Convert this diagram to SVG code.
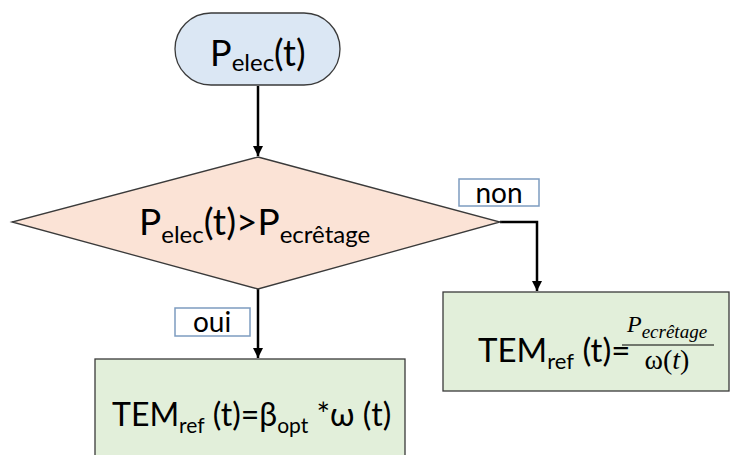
<svg xmlns="http://www.w3.org/2000/svg" width="742" height="455" viewBox="0 0 742 455">
<defs>
<marker id="arr" viewBox="0 0 10 10" refX="10" refY="5" markerWidth="4" markerHeight="4" orient="auto" markerUnits="strokeWidth">
<path d="M0,0 L10,5 L0,10 z" fill="#000"/>
</marker>
<style>
.shape{stroke:#3a3a3a;stroke-width:1.3}
.lbl{fill:#fff;stroke:#7d9cc0;stroke-width:1.5}
.t{font-family:Lato,"Open Sans",sans-serif;fill:#000}
.m{font-family:"Liberation Serif",serif;fill:#000}
.conn{fill:none;stroke:#000;stroke-width:2.5;marker-end:url(#arr)}
</style>
</defs>
<rect width="742" height="455" fill="#fff"/>
<g id="connectors">
<path class="conn" d="M258,86 V156"/>
<path class="conn" d="M500,222 H537 V291"/>
<path class="conn" d="M258,289 V358"/>
</g>
<g id="start">
<rect class="shape" x="175" y="13" width="165" height="72" rx="36" ry="36" fill="#dbe7f4"/>
<text class="t" x="210" y="66" font-size="36">P<tspan font-size="24" dy="5">elec</tspan><tspan dy="-5">(t)</tspan></text>
</g>
<g id="decision">
<polygon class="shape" points="258,157 500,222 258,289 12,222" fill="#fbe3d6"/>
<text class="t" x="139" y="235" font-size="37">P<tspan font-size="24" dy="8">elec</tspan><tspan dy="-8">(t)&gt;P</tspan><tspan font-size="24" dy="8">ecrêtage</tspan></text>
</g>
<g id="label-non">
<rect class="lbl" x="459" y="179" width="80" height="27"/>
<text class="t" x="499" y="203" font-size="28" text-anchor="middle">non</text>
</g>
<g id="label-oui">
<rect class="lbl" x="175" y="308" width="75" height="28"/>
<text class="t" x="212" y="332" font-size="28" text-anchor="middle">oui</text>
</g>
<g id="box-right">
<rect class="shape" x="443" y="292" width="286" height="99" fill="#e2efda"/>
<text class="t" x="478" y="362" font-size="33">TEM<tspan font-size="22" dy="7">ref</tspan><tspan dy="-7"> (t)=</tspan></text>
<text class="m" x="627" y="332" font-size="24" font-style="italic">P<tspan font-size="19" dy="6">ecrêtage</tspan></text>
<line x1="622" y1="345" x2="714" y2="345" stroke="#000" stroke-width="1.2"/>
<text class="m" x="667" y="369" font-size="28" text-anchor="middle">ω(<tspan font-style="italic">t</tspan>)</text>
</g>
<g id="box-left">
<rect class="shape" x="95" y="359" width="310" height="100" fill="#e2efda"/>
<text class="t" x="112" y="426" font-size="32">TEM<tspan font-size="21" dy="7">ref</tspan><tspan dy="-7"> (t)=β</tspan><tspan font-size="21" dy="7">opt</tspan><tspan dy="-7"> *ω (t)</tspan></text>
</g>
</svg>
